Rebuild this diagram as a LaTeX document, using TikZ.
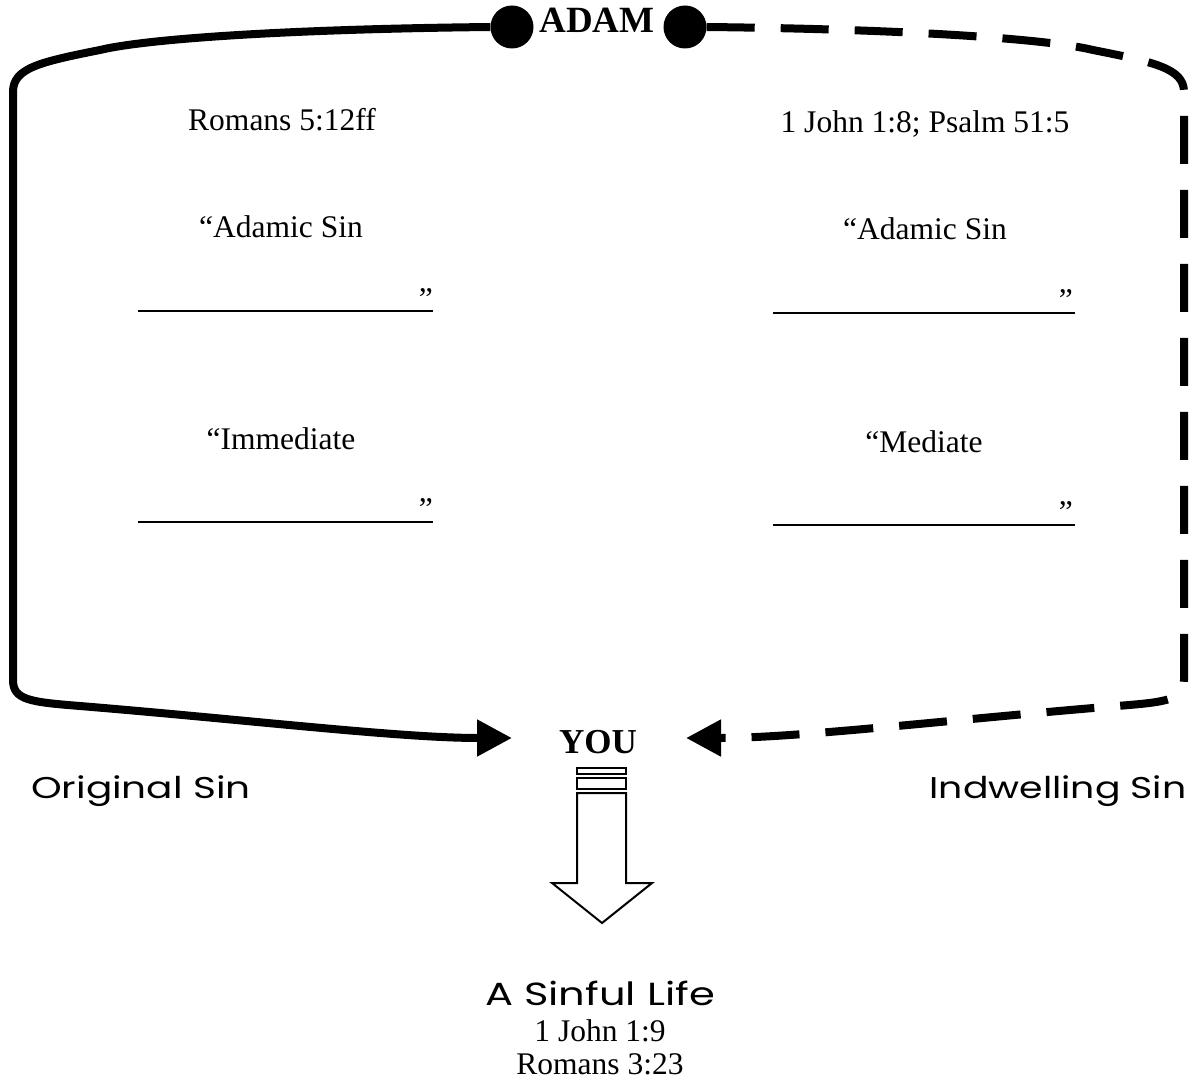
\documentclass[tikz,border=0pt]{standalone}
\usepackage{fontspec}
\setmainfont{Liberation Serif}
\newfontfamily\handfont{Poppins}
\usetikzlibrary{arrows.meta}
\begin{document}
\begin{tikzpicture}[x=1pt,y=-1pt,
  body/.style={font=\fontsize{31.5}{36}\selectfont, inner sep=0pt, anchor=base},
  hand/.style={font=\handfont\fontsize{30}{34}\selectfont, inner sep=0pt, anchor=base},
  big/.style={font=\fontsize{37}{40}\selectfont\bfseries, inner sep=0pt, anchor=base},
  dotnode/.style={circle, fill=black, minimum size=43pt, inner sep=0pt},
  conn/.style={line width=8pt, -{Triangle[length=35pt,width=35pt]}},
  blankline/.style={line width=2pt},
  hollow/.style={line width=2pt, line join=miter}]

\useasboundingbox (0,0) rectangle (1193,1089);

% top and YOU
\node[dotnode] (dotL) at (512,27) {};
\node[dotnode] (dotR) at (685,27) {};
\node[big] (adam) at (597,33) {ADAM};
\node[big, font=\fontsize{35}{40}\selectfont\bfseries] (you) at (598,753) {YOU};
\coordinate (tipL) at (512,738);
\coordinate (tipR) at (686,738);

% connectors
\draw[conn] (dotL.west) .. controls (300,29) and (150,38) .. (100,50)
  .. controls (40,62) and (13,68) .. (13,92) -- (13,680)
  .. controls (13,700) and (30,702) .. (80,706)
  .. controls (250,720) and (400,738) .. (tipL);
\draw[conn, dash pattern=on 48pt off 26pt] (dotR.east) .. controls (893,29) and (1043,38) .. (1093,50)
  .. controls (1153,62) and (1184,68) .. (1184,92) -- (1184,680)
  .. controls (1184,700) and (1167,702) .. (1117,706)
  .. controls (947,720) and (797,738) .. (tipR);

% left column
\node[body] (romans) at (282,131) {Romans 5:12ff};
\node[body] (adamicL) at (281,237) {“Adamic Sin};
\draw[blankline] (138,311) -- (433,311);
\node[body, anchor=base east] (qL1) at (433,309) {”};
\node[body] (immed) at (281,449) {“Immediate};
\draw[blankline] (138,522) -- (433,522);
\node[body, anchor=base east] (qL2) at (433,519) {”};

% right column
\node[body] (john) at (925,132) {1 John 1:8; Psalm 51:5};
\node[body] (adamicR) at (925,239) {“Adamic Sin};
\draw[blankline] (773,313) -- (1075,313);
\node[body, anchor=base east] (qR1) at (1073,310) {”};
\node[body] (med) at (924,452) {“Mediate};
\draw[blankline] (773,525) -- (1075,525);
\node[body, anchor=base east] (qR2) at (1073,522) {”};

% side labels
\node[hand] (orig) at (141,798) {\scalebox{1.3}[1]{Original Sin}};
\node[hand] (indw) at (1058,798) {\scalebox{1.26}[1]{Indwelling Sin}};

% hollow striped arrow
\draw[hollow] (577,768) rectangle (626,774);
\draw[hollow] (577,778) rectangle (626,789);
\draw[hollow] (577,793) -- (577,883) -- (552,883) -- (602,923) -- (652,883) -- (626,883) -- (626,793) -- cycle;

% bottom
\node[hand, font=\handfont\fontsize{32}{36}\selectfont] (life) at (600,1005) {\scalebox{1.3}[1]{A Sinful Life}};
\node[body] (j19) at (600,1041) {1 John 1:9};
\node[body] (r323) at (600,1074) {Romans 3:23};
\end{tikzpicture}
\end{document}
